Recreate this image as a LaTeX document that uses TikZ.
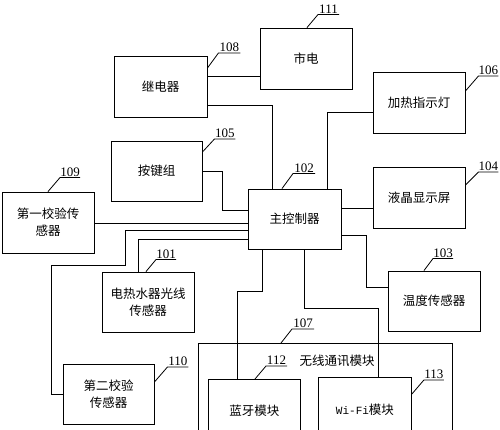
\documentclass[tikz,border=0pt]{standalone}
\usepackage{fontspec}
\setmainfont{Liberation Serif}
\newfontfamily\cjk{Noto Sans CJK SC}
\newfontfamily\wfont{Liberation Mono}
\begin{document}
\begin{tikzpicture}[x=1pt,y=-1pt,
  box/.style={draw, line width=0.9pt, minimum width=92pt, minimum height=61pt, inner sep=0pt,
    font=\cjk\fontsize{12.5}{17}\selectfont, align=center},
  wire/.style={line width=0.8pt},
  lead/.style={line width=0.8pt},
  num/.style={font=\fontsize{13}{13}\selectfont, inner sep=1pt, above}]
\useasboundingbox (0,0) rectangle (500,429);
\clip (0,0) rectangle (500,429);
% boxes
\node[box, minimum width=93pt] (relay) at (160.5,86.5) {继电器};
\node[box] (mains) at (306,58.5) {市电};
\node[box] (heat) at (419,102.5) {加热指示灯};
\node[box] (lcd) at (419,197.5) {液晶显示屏};
\node[box, minimum height=60pt] (temp) at (434,301) {温度传感器};
\node[box, minimum width=93pt, minimum height=60pt] (main) at (294.5,219) {主控制器};
\node[box, minimum width=91pt, minimum height=60pt] (keys) at (156.5,171) {按键组};
\node[box] (chka) at (48,222.5) {第一校验传\\感器};
\node[box, minimum height=60pt] (light) at (148,302) {电热水器光线\\传感器};
\node[box, minimum width=91pt, minimum height=60pt] (chkb) at (108.5,394) {第二校验\\传感器};
\node[box, anchor=north west, minimum width=254pt, minimum height=100pt] (wl) at (198,343) {};
\node[font=\cjk\fontsize{12.5}{17}\selectfont] (wltext) at (337,361) {无线通讯模块};
\node[box, anchor=north west, minimum height=62pt] (bt) at (208,379) {蓝牙模块};
\node[box, anchor=north west, minimum width=93pt, minimum height=64pt] (wifi) at (318,377) {{\wfont\fontsize{11}{11}\selectfont Wi-Fi}模块};
% connectors
\draw[wire] (relay.east |- 0,76) -- (mains.west |- 0,76);
\draw[wire] (relay.east |- 0,105) -| (main.north -| 272,0);
\draw[wire] (main.north -| 327,0) |- (heat.west |- 0,112);
\draw[wire] (main.east |- 0,208) -- (lcd.west |- 0,208);
\draw[wire] (main.east |- 0,235) -- (366,235) |- (temp.west |- 0,287);
\draw[wire] (keys.east) -- (222,171) |- (main.west |- 0,210);
\draw[wire] (chka.east |- 0,223) -- (main.west |- 0,223);
\draw[wire] (main.west |- 0,230) -- (125,230) -- (125,265) -- (51,265) |- (chkb.west);
\draw[wire] (main.west |- 0,239) -| (light.north -| 138,0);
\draw[wire] (main.south -| 262,0) -- (262,291) -| (bt.north -| 237,0);
\draw[wire] (main.south -| 304,0) -- (304,308) -| (wifi.north -| 378,0);
% labels
\draw[lead] (mains.north -| 307,0) -- ++(11,-13) -- ++(21,0) node[num, pos=0.5] {111};
\draw[lead] (relay.east |- 0,68) -- ++(11,-15) -- ++(22,0) node[num, pos=0.5] {108};
\draw[lead] (heat.east |- 0,91) -- ++(13,-15) -- ++(20,0) node[num, pos=0.5] {106};
\draw[lead] (lcd.east |- 0,185) -- ++(13,-13) -- ++(20,0) node[num, pos=0.5] {104};
\draw[lead] (temp.north -| 424,0) -- ++(9,-12) -- ++(20,0) node[num, pos=0.5] {103};
\draw[lead] (main.north -| 282,0) -- ++(11,-15) -- ++(22,0) node[num, pos=0.5] {102};
\draw[lead] (keys.east |- 0,152) -- ++(12,-13) -- ++(21,0) node[num, pos=0.5] {105};
\draw[lead] (chka.north -| 48,0) -- ++(12,-14) -- ++(20,0) node[num, pos=0.5] {109};
\draw[lead] (light.north -| 146,0) -- ++(10,-12) -- ++(20,0) node[num, pos=0.5] {101};
\draw[lead] (chkb.east |- 0,382) -- ++(13,-15) -- ++(21,0) node[num, pos=0.5] {110};
\draw[lead] (wl.north -| 281,0) -- ++(11,-14) -- ++(22,0) node[num, pos=0.5] {107};
\draw[lead] (bt.north -| 255,0) -- ++(11,-13) -- ++(21,0) node[num, pos=0.5] {112};
\draw[lead] (wifi.east |- 0,394) -- ++(12,-14) -- ++(20,0) node[num, pos=0.5] {113};
\end{tikzpicture}
\end{document}
